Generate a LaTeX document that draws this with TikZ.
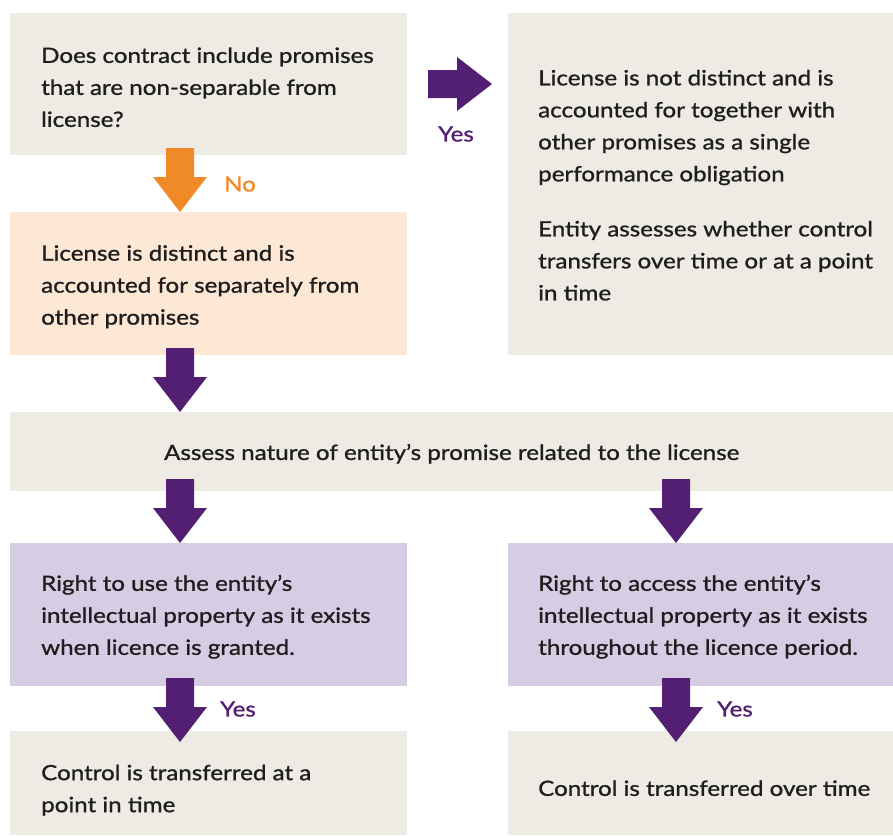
\documentclass[tikz,border=0pt]{standalone}
\usepackage{fontspec}
\setmainfont{Lato}
\newfontfamily\medfont{Lato}[FakeBold=1.1,FakeStretch=1.15]
\definecolor{beige}{HTML}{EEEBE4}
\definecolor{peach}{HTML}{FDE8D6}
\definecolor{lav}{HTML}{D6CCE4}
\definecolor{purp}{HTML}{521F73}
\definecolor{orng}{HTML}{F08A28}
\definecolor{ink}{HTML}{1E1E1E}
\begin{document}
\begin{tikzpicture}[x=1pt,y=-1pt,
  fillbox/.style={rectangle, draw=none, inner sep=0pt, anchor=north west},
  txt/.style={inner sep=0pt, align=left, text=ink, font=\medfont\fontsize{21}{32}\selectfont},
  lbl/.style={inner sep=0pt, font=\medfont\fontsize{21}{25}\selectfont},
  downarr/.pic={\fill[pic actions] (-14,0) -- (14,0) -- (14,29) -- (27,29) -- (0,64) -- (-27,29) -- (-14,29) -- cycle;},
  rightarr/.pic={\fill[pic actions] (0,-14) -- (29,-14) -- (29,-27) -- (64,0) -- (29,27) -- (29,14) -- (0,14) -- cycle;}
]
\useasboundingbox (0,0) rectangle (893,835);

% boxes
\node[fillbox, fill=beige, minimum width=397, minimum height=142] (q) at (10,13) {};
\node[fillbox, fill=beige, minimum width=385, minimum height=342] (nd) at (508,13) {};
\node[fillbox, fill=peach, minimum width=397, minimum height=143] (d) at (10,212) {};
\node[fillbox, fill=beige, minimum width=883, minimum height=79] (a) at (10,412) {};
\node[fillbox, fill=lav, minimum width=397, minimum height=143] (u) at (10,543) {};
\node[fillbox, fill=lav, minimum width=385, minimum height=143] (ac) at (508,543) {};
\node[fillbox, fill=beige, minimum width=397, minimum height=104] (pt) at (10,731) {};
\node[fillbox, fill=beige, minimum width=385, minimum height=104] (ot) at (508,731) {};

% texts
\node[txt, anchor=west] (qt) at ([xshift=31pt,yshift=-3pt]q.west) {Does contract include promises\\that are non-separable from\\license?};
\node[txt, anchor=west] (ndt) at ([xshift=30pt,yshift=-1pt]nd.west) {License is not distinct and is\\accounted for together with\\other promises as a single\\performance obligation\\[23pt]Entity assesses whether control\\transfers over time or at a point\\in time};
\node[txt, anchor=west] (dt) at ([xshift=31pt,yshift=-3pt]d.west) {License is distinct and is\\accounted for separately from\\other promises};
\node[txt] (at) at ([yshift=-2pt]a.center) {Assess nature of entity’s promise related to the license};
\node[txt, anchor=west] (ut) at ([xshift=31pt,yshift=-2pt]u.west) {Right to use the entity’s\\intellectual property as it exists\\when licence is granted.};
\node[txt, anchor=west] (act) at ([xshift=30pt,yshift=-2pt]ac.west) {Right to access the entity’s\\intellectual property as it exists\\throughout the licence period.};
\node[txt, anchor=west] (ptt) at ([xshift=31pt,yshift=-7pt]pt.west) {Control is transferred at a\\point in time};
\node[txt, anchor=west] (ott) at ([xshift=30pt,yshift=-5pt]ot.west) {Control is transferred over time};

% arrows
\pic[fill=orng] at (180,148) {downarr};
\pic[fill=purp] at (180,348) {downarr};
\pic[fill=purp] at (180,479) {downarr};
\pic[fill=purp] at (676,479) {downarr};
\pic[fill=purp] at (180,678) {downarr};
\pic[fill=purp] at (676,678) {downarr};
\pic[fill=purp] at (428,84) {rightarr};

% labels
\node[lbl, text=orng] (no) at (240,184) {No};
\node[lbl, text=purp] (y1) at (456,134) {Yes};
\node[lbl, text=purp] (y2) at (238,709) {Yes};
\node[lbl, text=purp] (y3) at (735,709) {Yes};
\end{tikzpicture}
\end{document}
